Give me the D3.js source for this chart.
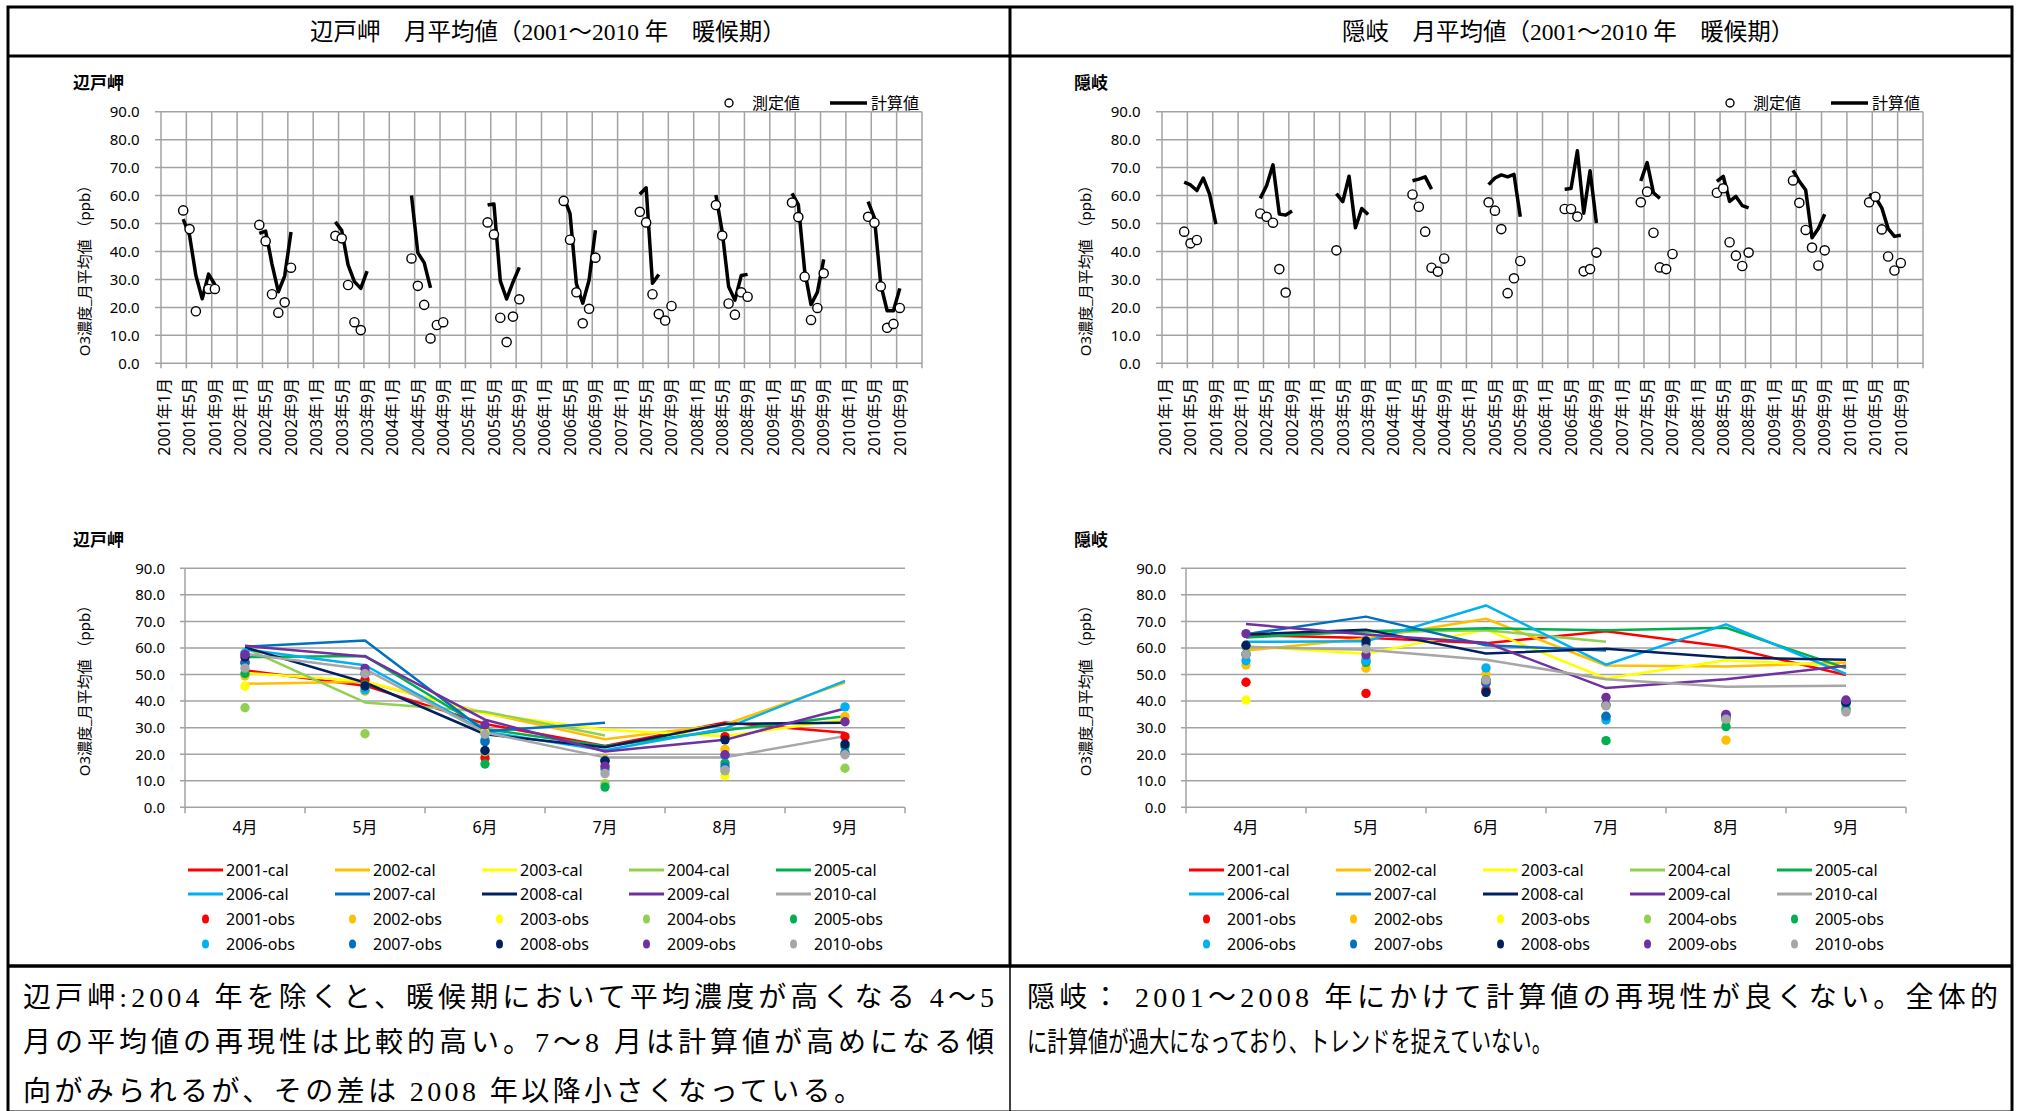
<!DOCTYPE html>
<html>
<head>
<meta charset="utf-8">
<script src="https://cdn.jsdelivr.net/npm/d3@7"></script>
<style>
  body { margin: 0; background: #fff; }
  svg { display: block; }
</style>
</head>
<body>
<div id="page"></div>
<script>
// ---- data ----
const years = [2001, 2002, 2003, 2004, 2005, 2006, 2007, 2008, 2009, 2010];
const yearColors = ["#FF0000", "#FFC000", "#FFFF00", "#92D050", "#00B050",
                    "#00B0F0", "#0070C0", "#002060", "#7030A0", "#A6A6A6"];
const months = [4, 5, 6, 7, 8, 9];
const monthLabels = ["4月", "5月", "6月", "7月", "8月", "9月"];
const yTicks = [0, 10, 20, 30, 40, 50, 60, 70, 80, 90];

// 辺戸岬 (Apr..Sep per year)
const hedoCal = [
  [51.6, 45.8, 31.4, 23.1, 31.9, 28.1],
  [46.5, 47.3, 35.5, 25.6, 31.2, 47.0],
  [50.6, 47.5, 35.2, 29.2, 26.8, 33.0],
  [60.0, 39.5, 36.0, 27.0, null, null],
  [56.6, 57.0, 29.5, 23.0, 29.0, 34.3],
  [59.5, 53.5, 28.5, 21.5, 29.7, 47.6],
  [60.5, 62.8, 28.6, 31.8, null, null],
  [60.2, 47.0, 27.5, 22.6, 31.4, 31.8],
  [60.8, 56.8, 33.0, 21.0, 25.4, 37.2],
  [57.8, 52.0, 28.2, 18.8, 18.8, 26.8]
];
const hedoObs = [
  [54.7, 48.0, 18.6, null, 26.6, 26.6],
  [49.5, 43.7, 24.7, 18.1, 21.8, 34.2],
  [45.6, 44.7, 28.0, 14.7, 11.9, null],
  [37.5, 27.7, 20.9, 8.9, 13.7, 14.7],
  [50.4, 46.1, 16.3, 7.6, 16.7, 22.9],
  [58.1, 44.2, 25.4, 14.3, 19.5, 37.8],
  [54.2, 50.4, 24.7, 17.6, 15.3, 20.5],
  [56.6, 45.7, 21.4, 17.4, 25.4, 23.8],
  [57.5, 52.3, 31.0, 15.5, 19.8, 32.2],
  [52.4, 50.3, 27.5, 12.7, 14.1, 19.8]
];

// 隠岐
const okiCal = [
  [64.8, 63.8, 61.8, 66.3, 60.5, 49.8],
  [59.0, 63.6, 71.0, 53.4, 53.0, 54.5],
  [60.7, 57.8, 66.9, 48.5, 55.4, 53.2],
  [65.3, 65.9, 66.7, 62.3, null, null],
  [63.9, 66.3, 67.4, 66.7, 67.6, 52.4],
  [62.3, 62.5, 76.0, 53.7, 68.9, 50.2],
  [65.2, 71.8, 61.0, 59.0, null, null],
  [65.1, 66.9, 57.9, 59.7, 56.4, 55.6],
  [69.0, 65.1, 62.0, 44.9, 48.2, 53.3],
  [60.4, 59.3, 55.6, 48.2, 45.4, 45.8]
];
const okiObs = [
  [47.1, 42.9, 44.1, null, null, null],
  [53.6, 52.4, 50.3, 33.7, 25.3, null],
  [40.4, null, null, null, null, null],
  [60.4, 56.0, 47.1, 34.2, 32.8, 37.5],
  [57.6, 54.6, 48.0, 25.1, 30.4, 36.6],
  [55.2, 55.2, 52.5, 32.9, 33.7, 39.6],
  [57.6, 61.4, 46.7, 34.3, 33.7, 39.1],
  [61.0, 62.6, 43.3, 38.5, 34.8, 39.6],
  [65.4, 57.4, 47.7, 41.4, 35.0, 40.4],
  [57.6, 59.6, 47.9, 38.2, 33.2, 35.9]
];

const headers = ["辺戸岬　月平均値（2001～2010 年　暖候期）", "隠岐　月平均値（2001～2010 年　暖候期）"];
const notes = [
  ["辺戸岬:2004 年を除くと、暖候期において平均濃度が高くなる 4～5",
   "月の平均値の再現性は比較的高い。7～8 月は計算値が高めになる傾",
   "向がみられるが、その差は 2008 年以降小さくなっている。"],
  ["隠岐： 2001～2008 年にかけて計算値の再現性が良くない。全体的",
   "に計算値が過大になっており、トレンドを捉えていない。"]
];

const stations = [
  { name: "辺戸岬", cal: hedoCal, obs: hedoObs },
  { name: "隠岐", cal: okiCal, obs: okiObs }
];

// ---- layout ----
const W = 2024, H = 1111;
const panelShift = 1001;
const topDim = { left: 161, right: 922, top: 111.7, bottom: 363.3 };
const botDim = { left: 185, right: 905, top: 568.3, bottom: 807.3 };
const sans = "'Noto Sans', 'Noto Sans CJK JP', sans-serif";
const serif = "'Liberation Serif', 'Noto Sans CJK JP', serif";
const gridColor = "#a3a3a3";

const svg = d3.select("#page").append("svg")
  .attr("width", W).attr("height", H)
  .style("background", "#fff");

function seriesPoints(rows, k) {
  return months.map(function (m, j) { return { idx: k * 12 + m - 1, j: j, v: rows[k][j] }; });
}

function drawTimeSeries(g, st) {
  const x = d3.scaleLinear().domain([0, 120]).range([topDim.left, topDim.right]);
  const y = d3.scaleLinear().domain([0, 90]).range([topDim.bottom, topDim.top]);

  g.append("text").attr("x", 73).attr("y", 89)
    .style("font-family", sans).style("font-size", "17px").style("font-weight", "bold")
    .text(st.name);

  // grid
  g.append("g").selectAll("line").data(yTicks).join("line")
    .attr("x1", x(0) - 6).attr("x2", x(120))
    .attr("y1", function (d) { return y(d); }).attr("y2", function (d) { return y(d); })
    .attr("stroke", gridColor).attr("stroke-width", 1.5);
  g.append("g").selectAll("line").data(d3.range(0, 121, 4)).join("line")
    .attr("x1", function (d) { return x(d); }).attr("x2", function (d) { return x(d); })
    .attr("y1", y(90)).attr("y2", y(0) + 5)
    .attr("stroke", gridColor).attr("stroke-width", 1.5);

  // y axis labels
  const ya = g.append("g").attr("transform", "translate(" + x(0) + ",0)")
    .call(d3.axisLeft(y).tickValues(yTicks).tickFormat(d3.format(".1f")).tickSize(6).tickPadding(15.5));
  ya.select(".domain").remove();
  ya.selectAll("line").remove();
  ya.selectAll("text").style("font-family", sans).style("font-size", "15px").attr("fill", "#000");

  // x labels every 4 months
  g.append("g").selectAll("text").data(d3.range(0, 120, 4)).join("text")
    .attr("transform", function (d) { return "translate(" + x(d + 0.5) + ",378) rotate(-90)"; })
    .attr("text-anchor", "end").attr("dy", "0.36em")
    .style("font-family", sans).style("font-size", "16px")
    .text(function (d) { return (years[0] + Math.floor(d / 12)) + "年" + (d % 12 + 1) + "月"; });

  // y title
  g.append("text").attr("transform", "translate(85,267) rotate(-90)")
    .attr("text-anchor", "middle").attr("dy", "0.36em")
    .style("font-family", sans).style("font-size", "15px")
    .text("O3濃度_月平均値 （ppb）");

  const line = d3.line()
    .defined(function (d) { return d.v != null; })
    .x(function (d) { return x(d.idx + 0.5); })
    .y(function (d) { return y(d.v); });

  years.forEach(function (yr, k) {
    g.append("path").datum(seriesPoints(st.cal, k))
      .attr("d", line).attr("fill", "none")
      .attr("stroke", "#000").attr("stroke-width", 3.5).attr("stroke-linejoin", "round");
  });
  years.forEach(function (yr, k) {
    g.append("g").selectAll("circle")
      .data(seriesPoints(st.obs, k).filter(function (d) { return d.v != null; }))
      .join("circle")
      .attr("cx", function (d) { return x(d.idx + 0.5); })
      .attr("cy", function (d) { return y(d.v); })
      .attr("r", 4.6).attr("fill", "#fff").attr("stroke", "#000").attr("stroke-width", 1.4);
  });

  // legend
  const lg = g.append("g").style("font-family", sans).style("font-size", "16px");
  lg.append("circle").attr("cx", 729).attr("cy", 103).attr("r", 4)
    .attr("fill", "#fff").attr("stroke", "#000").attr("stroke-width", 1.4);
  lg.append("text").attr("x", 752).attr("y", 109).text("測定値");
  lg.append("line").attr("x1", 830).attr("x2", 867).attr("y1", 103).attr("y2", 103)
    .attr("stroke", "#000").attr("stroke-width", 3.5);
  lg.append("text").attr("x", 871).attr("y", 109).text("計算値");
}

function drawMonthly(g, st) {
  const x = d3.scaleBand().domain(monthLabels).range([botDim.left, botDim.right]);
  const y = d3.scaleLinear().domain([0, 90]).range([botDim.bottom, botDim.top]);
  const cx = function (j) { return x(monthLabels[j]) + x.bandwidth() / 2; };

  g.append("text").attr("x", 73).attr("y", 546)
    .style("font-family", sans).style("font-size", "17px").style("font-weight", "bold")
    .text(st.name);

  g.append("g").selectAll("line").data(yTicks).join("line")
    .attr("x1", x.range()[0] - 5).attr("x2", x.range()[1])
    .attr("y1", function (d) { return y(d); }).attr("y2", function (d) { return y(d); })
    .attr("stroke", gridColor).attr("stroke-width", 1.5);
  g.append("line").attr("x1", botDim.left).attr("x2", botDim.left)
    .attr("y1", y(90)).attr("y2", y(0)).attr("stroke", gridColor).attr("stroke-width", 1.5);
  g.append("g").selectAll("line").data(d3.range(0, 7)).join("line")
    .attr("x1", function (d) { return botDim.left + d * x.step(); })
    .attr("x2", function (d) { return botDim.left + d * x.step(); })
    .attr("y1", y(0)).attr("y2", y(0) + 6)
    .attr("stroke", gridColor).attr("stroke-width", 1.5);

  const ya = g.append("g").attr("transform", "translate(" + botDim.left + ",0)")
    .call(d3.axisLeft(y).tickValues(yTicks).tickFormat(d3.format(".1f")).tickSize(5).tickPadding(15));
  ya.select(".domain").remove();
  ya.selectAll("line").remove();
  ya.selectAll("text").style("font-family", sans).style("font-size", "15px").attr("fill", "#000");

  const xa = g.append("g").attr("transform", "translate(0," + y(0) + ")")
    .call(d3.axisBottom(x).tickSize(0).tickPadding(14));
  xa.select(".domain").remove();
  xa.selectAll("text").style("font-family", sans).style("font-size", "16px").attr("fill", "#000");

  g.append("text").attr("transform", "translate(85,687) rotate(-90)")
    .attr("text-anchor", "middle").attr("dy", "0.36em")
    .style("font-family", sans).style("font-size", "15px")
    .text("O3濃度_月平均値 （ppb）");

  const line = d3.line()
    .defined(function (d) { return d.v != null; })
    .x(function (d) { return cx(d.j); })
    .y(function (d) { return y(d.v); });

  years.forEach(function (yr, k) {
    g.append("path").datum(seriesPoints(st.cal, k))
      .attr("d", line).attr("fill", "none")
      .attr("stroke", yearColors[k]).attr("stroke-width", 2.5).attr("stroke-linejoin", "round");
  });
  years.forEach(function (yr, k) {
    g.append("g").selectAll("circle")
      .data(seriesPoints(st.obs, k).filter(function (d) { return d.v != null; }))
      .join("circle")
      .attr("cx", function (d) { return cx(d.j); })
      .attr("cy", function (d) { return y(d.v); })
      .attr("r", 4.7).attr("fill", yearColors[k]);
  });

  // legend: 5 columns x 4 rows
  const lg = g.append("g").style("font-family", sans).style("font-size", "16px");
  const rowY = [870, 894, 919, 944];
  const colX = function (k) { return 188 + (k % 5) * 147; };
  years.forEach(function (yr, k) {
    const yy = rowY[Math.floor(k / 5)];
    lg.append("line").attr("x1", colX(k)).attr("x2", colX(k) + 35)
      .attr("y1", yy).attr("y2", yy).attr("stroke", yearColors[k]).attr("stroke-width", 3);
    lg.append("text").attr("x", colX(k) + 38).attr("y", yy).attr("dy", "0.35em").text(yr + "-cal");
  });
  years.forEach(function (yr, k) {
    const yy = rowY[2 + Math.floor(k / 5)];
    lg.append("ellipse").attr("cx", colX(k) + 17.5).attr("cy", yy).attr("rx", 3.5).attr("ry", 4.5)
      .attr("fill", yearColors[k]);
    lg.append("text").attr("x", colX(k) + 38).attr("y", yy).attr("dy", "0.35em").text(yr + "-obs");
  });
}

stations.forEach(function (st, s) {
  const g = svg.append("g").attr("transform", "translate(" + (s * panelShift) + ",0)");
  drawTimeSeries(g, st);
  drawMonthly(g, st);
});

// ---- table frame ----
const tbl = { left: 8, mid: 1010, right: 2012, top: 7, head: 56, body: 966, bottom: 1112 };
const frame = svg.append("g").attr("stroke", "#000").attr("fill", "none");
frame.append("rect").attr("x", tbl.left).attr("y", tbl.top)
  .attr("width", tbl.right - tbl.left).attr("height", tbl.bottom - tbl.top).attr("stroke-width", 3);
frame.append("line").attr("x1", tbl.left).attr("x2", tbl.right).attr("y1", tbl.head).attr("y2", tbl.head).attr("stroke-width", 3);
frame.append("line").attr("x1", tbl.left).attr("x2", tbl.right).attr("y1", tbl.body).attr("y2", tbl.body).attr("stroke-width", 3.5);
frame.append("line").attr("x1", tbl.mid).attr("x2", tbl.mid).attr("y1", tbl.top).attr("y2", tbl.body).attr("stroke-width", 3);
frame.append("line").attr("x1", tbl.mid).attr("x2", tbl.mid).attr("y1", tbl.body).attr("y2", tbl.bottom).attr("stroke-width", 1.5);

const headerX = [310, 1342];
headers.forEach(function (h, s) {
  svg.append("text")
    .attr("x", headerX[s]).attr("y", 32).attr("dy", "0.35em")
    .style("font-family", serif).style("font-size", "23.5px")
    .text(h);
});

// per-line extents of the note text, as laid out in the source document
const noteX = [23, 1027];
const noteWidths = [[971, 971, 839], [971, 525]];
const noteY = [997, 1042, 1091];
notes.forEach(function (lines, s) {
  lines.forEach(function (t, i) {
    svg.append("text").attr("x", noteX[s]).attr("y", noteY[i]).attr("dy", "0.35em")
      .style("font-family", serif).style("font-size", "28px")
      .attr("textLength", noteWidths[s][i])
      .attr("lengthAdjust", noteWidths[s][i] < 700 ? "spacingAndGlyphs" : "spacing")
      .text(t);
  });
});
</script>
</body>
</html>
